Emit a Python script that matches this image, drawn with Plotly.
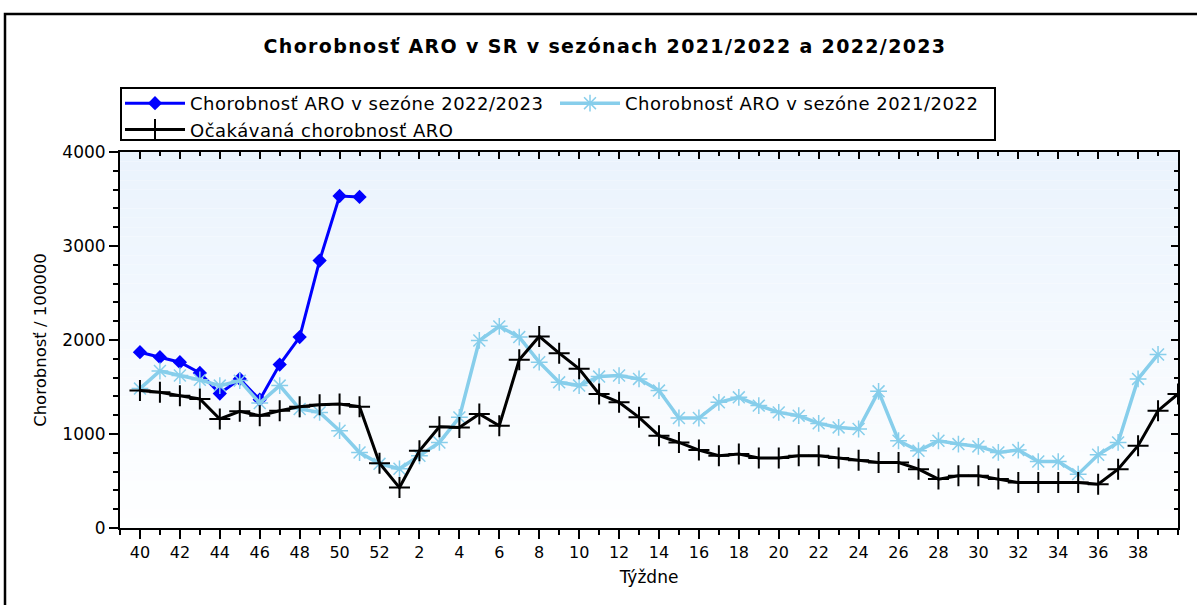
import plotly.graph_objects as go

# ---- data -------------------------------------------------------------
weeks = list(range(40, 53)) + list(range(1, 41))   # season week order (53 slots)

season_2022_2023 = [1870, 1817, 1764, 1650, 1430, 1586, 1365, 1739, 2031, 2845, 3532, 3522]

season_2021_2022 = [1483, 1670, 1622, 1576, 1515, 1568, 1330, 1515, 1266, 1230,
                    1035, 803, 683, 630, 768, 910, 1177, 1995, 2145, 2031,
                    1764, 1550, 1515, 1611, 1622, 1586, 1462, 1170, 1170, 1337,
                    1390, 1302, 1230, 1195, 1113, 1070, 1053, 1454, 928, 822,
                    928, 893, 868, 804, 829, 707, 707, 573, 779, 910,
                    1586, 1846]

expected = [1462, 1444, 1408, 1373, 1160, 1241, 1195, 1248, 1291, 1312,
            1320, 1291, 690, 430, 822, 1078, 1070, 1213, 1088, 1789,
            2038, 1860, 1693, 1426, 1337, 1177, 982, 910, 829, 768,
            786, 744, 744, 768, 768, 744, 722, 697, 697, 626,
            520, 555, 555, 520, 483, 483, 483, 483, 466, 626,
            875, 1248, 1426]

names = ["Chorobnosť ARO v sezóne 2022/2023",
         "Chorobnosť ARO v sezóne 2021/2022",
         "Očakávaná chorobnosť ARO"]
title_text = "Chorobnosť ARO v SR v sezónach 2021/2022 a 2022/2023"
x_title = "Týždne"
y_title = "Chorobnosť / 100000"

# ---- layout geometry ---------------------------------------------------
W, H = 1197, 605
L, R, T, B = 120, 19, 152, 77
PW, PH = W - L - R, H - T - B

def px_x(px):
    return (px - L) / PW

def px_y(py):
    return (H - B - py) / PH

def spaced(s, sp):
    return '<span style="letter-spacing:%spx">%s</span>' % (sp, s)

idx = list(range(len(weeks)))
tickvals = [i for i in idx if i % 2 == 0 and i <= 50]
ticktext = [str(weeks[i]) for i in tickvals]

FONT = "DejaVu Sans, Verdana, sans-serif"

fig = go.Figure()

fig.add_trace(go.Scatter(
    x=idx[:len(season_2022_2023)], y=season_2022_2023, name=spaced(names[0], 0.5),
    mode="lines+markers",
    line=dict(color="#0000ff", width=3),
    marker=dict(symbol="diamond", size=11, color="#0000ff"),
))
fig.add_trace(go.Scatter(
    x=idx[:len(season_2021_2022)], y=season_2021_2022, name=spaced(names[1], 0.5),
    mode="lines+markers",
    line=dict(color="#87ceeb", width=3.5),
    marker=dict(symbol="asterisk-open", size=14, color="#87ceeb",
                line=dict(color="#87ceeb", width=1.5)),
))
fig.add_trace(go.Scatter(
    x=idx[:len(expected)], y=expected, name=spaced(names[2], 0.5),
    mode="lines+markers", xaxis="x2", yaxis="y2",
    line=dict(color="#000000", width=3),
    marker=dict(symbol="cross-thin-open", size=15, color="#000000",
                line=dict(color="#000000", width=2)),
))

# gradient plot background (bands)
shapes = []
nb = 40
top_rgb = (234, 243, 253)
for k in range(nb):
    f = 1 - k / nb
    c = tuple(int(round(255 - (255 - t) * f)) for t in top_rgb)
    shapes.append(dict(type="rect", xref="paper", yref="paper",
                       x0=0, x1=1, y0=1 - (k + 1) / nb, y1=1 - k / nb,
                       fillcolor="rgb(%d,%d,%d)" % c, line=dict(width=0),
                       layer="below"))
# outer frame
shapes.append(dict(type="rect", xref="paper", yref="paper",
                   x0=px_x(5), x1=px_x(1215), y0=px_y(625), y1=px_y(14),
                   line=dict(color="black", width=2.5), fillcolor="rgba(0,0,0,0)",
                   layer="above"))
# legend frame
shapes.append(dict(type="rect", xref="paper", yref="paper",
                   x0=px_x(121), x1=px_x(995), y0=px_y(140), y1=px_y(88),
                   line=dict(color="black", width=2), fillcolor="rgba(0,0,0,0)",
                   layer="above"))

axis_common = dict(showgrid=False, zeroline=False, linecolor="black", linewidth=2)

fig.update_layout(
    width=W, height=H,
    margin=dict(l=L, r=R, t=T, b=B, autoexpand=False),
    paper_bgcolor="white", plot_bgcolor="white",
    font=dict(family=FONT, size=16, color="black"),
    title=dict(text="<b>" + spaced(title_text, 1.35) + "</b>", x=605 / W, xanchor="center",
               xref="container",
               y=1 - 46 / H, yanchor="middle", yref="container",
               font=dict(size=19, family=FONT)),
    showlegend=True,
    legend=dict(orientation="h", x=0, xanchor="left", y=px_y(85), yanchor="top",
                borderwidth=0, bgcolor="rgba(0,0,0,0)",
                entrywidth=360, entrywidthmode="pixels", itemwidth=60,
                font=dict(size=18), tracegroupgap=0),
    xaxis=dict(range=[-1, 52], tickmode="array", tickvals=tickvals, ticktext=ticktext,
               ticks="outside", ticklen=9, tickwidth=2, tickcolor="black",
               minor=dict(tickmode="linear", tick0=0, dtick=1, ticks="outside",
                          ticklen=5, tickwidth=2, tickcolor="black"),
               tickfont=dict(size=16),
               title=dict(text=x_title, standoff=10, font=dict(size=17)),
               mirror=True, **axis_common),
    yaxis=dict(range=[0, 4000], tickmode="linear", tick0=0, dtick=1000,
               ticks="outside", ticklen=9, tickwidth=2, tickcolor="black",
               minor=dict(tickmode="linear", tick0=0, dtick=200, ticks="outside",
                          ticklen=5, tickwidth=2, tickcolor="black"),
               tickfont=dict(size=17),
               title=dict(text=y_title, standoff=12, font=dict(size=16.5)),
               mirror=True, **axis_common),
    xaxis2=dict(overlaying="x", matches="x", side="top", tickmode="array",
                tickvals=tickvals, showticklabels=False,
                ticks="inside", ticklen=7, tickwidth=2, tickcolor="black",
                minor=dict(tickmode="linear", tick0=0, dtick=1, ticks="inside",
                           ticklen=4, tickwidth=2, tickcolor="black"),
                showgrid=False, zeroline=False, showline=False),
    yaxis2=dict(overlaying="y", matches="y", side="right", tickmode="linear",
                tick0=0, dtick=1000, showticklabels=False,
                ticks="inside", ticklen=7, tickwidth=2, tickcolor="black",
                minor=dict(tickmode="linear", tick0=0, dtick=200, ticks="inside",
                           ticklen=4, tickwidth=2, tickcolor="black"),
                showgrid=False, zeroline=False, showline=False),
    shapes=shapes,
)

fig.write_html("out.html", config={"displayModeBar": False},
               post_script="document.body.style.margin='0px';document.body.style.padding='0px';")
